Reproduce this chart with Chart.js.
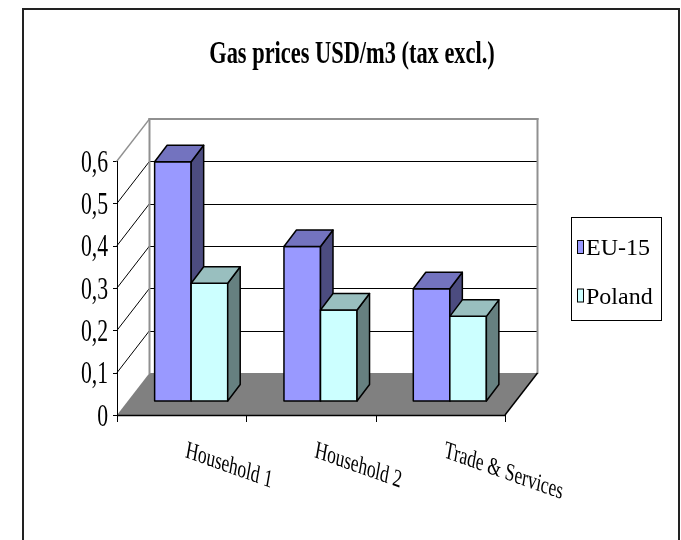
<!DOCTYPE html>
<html>
<head>
<meta charset="utf-8">
<title>Gas prices</title>
<script src="https://cdn.jsdelivr.net/npm/chart.js@4.4.1/dist/chart.umd.min.js"></script>
<style>
  body { margin: 0; background: #fff; }
  canvas { display: block; }
</style>
</head>
<body>
<canvas id="gasChart" width="681" height="540"></canvas>
<script>
const TITLE = 'Gas prices USD/m3 (tax excl.)';
const categories = ['Household 1', 'Household 2', 'Trade & Services'];
const eu15 = [0.565, 0.365, 0.265];
const poland = [0.278, 0.215, 0.2];
const yTickLabels = ['0', '0,1', '0,2', '0,3', '0,4', '0,5', '0,6'];

// faces of the 3d bars: front, top, side
const faces = [
    { front: '#9999FF', top: '#7373BF', side: '#4C4C80' },
    { front: '#CCFFFF', top: '#99BFBF', side: '#668080' }
];

const FONT = '"Liberation Serif", "Times New Roman", serif';
const SQUEEZE = 0.7;              // text in the picture is horizontally condensed
const WALL = { x: 32.5, y: 42 };  // back wall offset from the front plane
const BAR_OFF = { x: 9.5, y: 14 };
const BAR_DEPTH = { x: 12.5, y: 16.5 };

function poly(ctx, pts, fill, stroke) {
    ctx.beginPath();
    ctx.moveTo(pts[0][0], pts[0][1]);
    for (let i = 1; i < pts.length; i++) ctx.lineTo(pts[i][0], pts[i][1]);
    ctx.closePath();
    if (fill) { ctx.fillStyle = fill; ctx.fill(); }
    if (stroke) { ctx.strokeStyle = stroke; ctx.stroke(); }
}

function line(ctx, x1, y1, x2, y2, color, w) {
    ctx.beginPath();
    ctx.moveTo(x1, y1);
    ctx.lineTo(x2, y2);
    ctx.strokeStyle = color;
    ctx.lineWidth = w || 1;
    ctx.stroke();
}

function squeezed(ctx, text, x, y, align, angle) {
    ctx.save();
    ctx.translate(x, y);
    ctx.scale(SQUEEZE, 1);
    if (angle) ctx.rotate(angle);
    ctx.textAlign = align;
    ctx.textBaseline = 'alphabetic';
    ctx.fillText(text, 0, 0);
    ctx.restore();
}

const chart3d = {
    id: 'chart3d',
    beforeDraw(chart) {
        const ctx = chart.ctx;
        ctx.save();
        ctx.fillStyle = '#fff';
        ctx.fillRect(0, 0, chart.width, chart.height);
        ctx.lineWidth = 2;
        ctx.strokeStyle = '#222';
        ctx.strokeRect(23, 9, 656, 560);
        ctx.fillStyle = '#000';
        ctx.font = 'bold 32px ' + FONT;
        squeezed(ctx, chart.options.plugins.title.text, 352, 63, 'center');
        ctx.restore();
    },
    beforeDatasetsDraw(chart) {
        const ctx = chart.ctx;
        const a = chart.chartArea;
        const ys = chart.scales.y;
        const xs = chart.scales.x;
        const wx = WALL.x, wy = WALL.y;
        ctx.save();

        // floor
        poly(ctx, [[a.left, a.bottom], [a.right, a.bottom],
                   [a.right + wx, a.bottom - wy], [a.left + wx, a.bottom - wy]], '#808080');

        // grid on back and side walls
        ys.ticks.forEach(t => {
            const y = ys.getPixelForValue(t.value);
            if (t.value > 0 && t.value < ys.max) {
                line(ctx, a.left + wx, Math.round(y - wy) + 0.5, a.right + wx, Math.round(y - wy) + 0.5, '#000', 1);
                line(ctx, a.left, y, a.left + wx, y - wy, '#000', 1);
            }
            line(ctx, a.left - 4, Math.round(y) + 0.5, a.left, Math.round(y) + 0.5, '#000', 1);
        });
        ctx.lineCap = 'square';
        line(ctx, a.left, a.top, a.left + wx, a.top - wy, '#909090', 1.5);
        line(ctx, a.left + wx, a.top - wy, a.right + wx, a.top - wy, '#909090', 2);
        line(ctx, a.left + wx, a.top - wy, a.left + wx, a.bottom - wy, '#909090', 2);
        line(ctx, a.right + wx, a.top - wy, a.right + wx, a.bottom - wy, '#909090', 2);
        ctx.lineCap = 'butt';

        // front axes
        line(ctx, a.left + 0.5, a.top, a.left + 0.5, a.bottom + 7, '#000', 1);
        line(ctx, a.left, a.bottom + 0.5, a.right, a.bottom + 0.5, '#000', 1.5);
        line(ctx, a.right, a.bottom, a.right + wx, a.bottom - wy, '#000', 1.5);
        const half = (xs.getPixelForValue(1) - xs.getPixelForValue(0)) / 2;
        for (let i = 0; i < chart.data.labels.length; i++) {
            const x = Math.round(xs.getPixelForValue(i) + half) + 0.5;
            line(ctx, x, a.bottom, x, a.bottom + 7, '#000', 1);
        }

        // bars, left to right, series in order inside each category
        ctx.lineWidth = 1.5;
        ctx.lineJoin = 'round';
        const metas = chart.data.datasets.map((d, i) => chart.getDatasetMeta(i));
        for (let i = 0; i < chart.data.labels.length; i++) {
            metas.forEach((meta, d) => {
                const bar = meta.data[i];
                const p = bar.getProps(['x', 'y', 'base', 'width'], true);
                const l = p.x - p.width / 2 + BAR_OFF.x, r = p.x + p.width / 2 + BAR_OFF.x;
                const t = p.y - BAR_OFF.y, b = p.base - BAR_OFF.y;
                const dx = BAR_DEPTH.x, dy = BAR_DEPTH.y;
                const f = faces[d];
                poly(ctx, [[l, b], [r, b], [r, t], [l, t]], f.front, '#000');
                poly(ctx, [[r, b], [r + dx, b - dy], [r + dx, t - dy], [r, t]], f.side, '#000');
                poly(ctx, [[l, t], [r, t], [r + dx, t - dy], [l + dx, t - dy]], f.top, '#000');
            });
        }
        ctx.restore();
        return false;
    },
    afterDraw(chart) {
        const ctx = chart.ctx;
        const ys = chart.scales.y;
        const xs = chart.scales.x;
        ctx.save();
        ctx.fillStyle = '#000';

        // value ticks
        ctx.font = '31px ' + FONT;
        ys.ticks.forEach((t, i) => {
            squeezed(ctx, yTickLabels[i], 108, ys.getPixelForValue(t.value) + 10.5, 'right');
        });

        // category labels
        ctx.font = '25px ' + FONT;
        chart.data.labels.forEach((lab, i) => {
            squeezed(ctx, lab, xs.getPixelForValue(i) + 3, 457, 'left', 14 * Math.PI / 180);
        });

        // legend
        ctx.lineWidth = 1;
        ctx.strokeStyle = '#000';
        ctx.fillStyle = '#fff';
        ctx.fillRect(571.5, 217.5, 90, 103);
        ctx.strokeRect(571.5, 217.5, 90, 103);
        ctx.font = '24px ' + FONT;
        chart.data.datasets.forEach((ds, i) => {
            const y = 240.5 + i * 48.5;
            ctx.fillStyle = ds.backgroundColor;
            ctx.fillRect(577.5, y, 6, 13);
            ctx.strokeRect(577.5, y, 6, 13);
            ctx.fillStyle = '#000';
            ctx.textAlign = 'left';
            ctx.textBaseline = 'alphabetic';
            ctx.fillText(ds.label, 586, y + 14.5);
        });
        ctx.restore();
    }
};

new Chart(document.getElementById('gasChart'), {
    type: 'bar',
    data: {
        labels: categories,
        datasets: [
            { label: 'EU-15', data: eu15, backgroundColor: faces[0].front },
            { label: 'Poland', data: poland, backgroundColor: faces[1].front }
        ]
    },
    options: {
        responsive: false,
        animation: false,
        layout: { padding: { left: 117, right: 176, top: 161, bottom: 125 } },
        datasets: { bar: { categoryPercentage: 0.565, barPercentage: 1 } },
        scales: {
            x: { display: false },
            y: { display: false, min: 0, max: 0.6, ticks: { stepSize: 0.1 } }
        },
        plugins: {
            title: { display: false, text: TITLE },
            legend: { display: false },
            tooltip: { enabled: false }
        }
    },
    plugins: [chart3d]
});
</script>
</body>
</html>
